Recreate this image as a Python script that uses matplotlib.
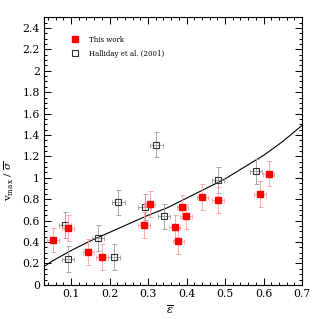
import matplotlib
matplotlib.use('Agg')
import matplotlib.pyplot as plt
from matplotlib.ticker import MultipleLocator

plt.rcParams['font.family'] = 'DejaVu Serif'
plt.rcParams['mathtext.fontset'] = 'dejavuserif'

# This work
eps_this = [0.053, 0.092, 0.145, 0.180, 0.289, 0.304, 0.369, 0.379, 0.389, 0.399, 0.441, 0.482, 0.590, 0.613]
v_this = [0.42, 0.53, 0.305, 0.26, 0.556, 0.758, 0.537, 0.407, 0.73, 0.64, 0.82, 0.795, 0.85, 1.04]
xerr_this = [0.015] * 14
yerr_this = [0.11, 0.12, 0.12, 0.12, 0.12, 0.12, 0.12, 0.12, 0.11, 0.12, 0.12, 0.12, 0.12, 0.12]

# Halliday et al. (2001)
eps_hal = [0.084, 0.092, 0.171, 0.212, 0.223, 0.291, 0.322, 0.341, 0.482, 0.581]
v_hal = [0.556, 0.242, 0.44, 0.258, 0.77, 0.727, 1.31, 0.64, 0.98, 1.06]
xerr_hal = [0.016] * 10
yerr_hal = [0.12] * 10

# model curve
eps_curve = [0.03, 0.05, 0.1, 0.15, 0.2, 0.25, 0.3, 0.35, 0.4, 0.45, 0.5, 0.55, 0.6, 0.65, 0.7]
v_curve = [0.17, 0.22, 0.32, 0.41, 0.49, 0.57, 0.65, 0.72, 0.81, 0.90, 0.99, 1.10, 1.21, 1.34, 1.49]

fig = plt.figure(figsize=(3.19, 3.19), dpi=100)
ax = fig.add_axes([0.138, 0.107, 0.809, 0.839])

ax.plot(eps_curve, v_curve, color='black', lw=0.8)

ax.errorbar(eps_hal, v_hal, xerr=xerr_hal, yerr=yerr_hal, fmt='none',
            ecolor='#999999', elinewidth=0.6, capsize=1.8, capthick=0.6)
ax.plot(eps_hal, v_hal, 's', mfc='none', mec='#333333', mew=0.8, ms=4.3, ls='none',
        label='Halliday et al. (2001)')

ax.errorbar(eps_this, v_this, xerr=xerr_this, yerr=yerr_this, fmt='none',
            ecolor='#ff9c9c', elinewidth=0.6, capsize=1.8, capthick=0.6)
ax.plot(eps_this, v_this, 's', color='red', ms=5.0, ls='none', label='This work')

ax.set_xlim(0.03, 0.7)
ax.set_ylim(0, 2.5)
ax.xaxis.set_major_locator(MultipleLocator(0.1))
ax.xaxis.set_minor_locator(MultipleLocator(0.02))
ax.yaxis.set_major_locator(MultipleLocator(0.2))
ax.yaxis.set_minor_locator(MultipleLocator(0.05))
ax.set_xticks([0.1, 0.2, 0.3, 0.4, 0.5, 0.6, 0.7])
ax.set_xticklabels(['0.1', '0.2', '0.3', '0.4', '0.5', '0.6', '0.7'])
ax.set_yticks([0, 0.2, 0.4, 0.6, 0.8, 1, 1.2, 1.4, 1.6, 1.8, 2, 2.2, 2.4])
ax.set_yticklabels(['0', '0.2', '0.4', '0.6', '0.8', '1', '1.2', '1.4', '1.6', '1.8', '2', '2.2', '2.4'])
ax.tick_params(which='both', direction='in', top=True, right=True, labelsize=7.8, width=0.7)
ax.tick_params(which='major', length=5, pad=3)
ax.tick_params(which='minor', length=2.5)
for s in ax.spines.values():
    s.set_linewidth(0.8)

ax.set_xlabel(r'$\overline{\varepsilon}$', fontsize=8)
ax.xaxis.set_label_coords(0.49, -0.07)
ax.set_ylabel(r'v$_{\rm max}$ / $\overline{\sigma}$', fontsize=7.5)
ax.yaxis.set_label_coords(-0.11, 0.39)

h, l = ax.get_legend_handles_labels()
ax.legend(h[::-1], l[::-1], loc='upper left', bbox_to_anchor=(0.085, 0.955), frameon=False,
          fontsize=5, handlelength=0.8, handletextpad=1.6, labelspacing=0.9)

fig.savefig('out.png', dpi=100)
